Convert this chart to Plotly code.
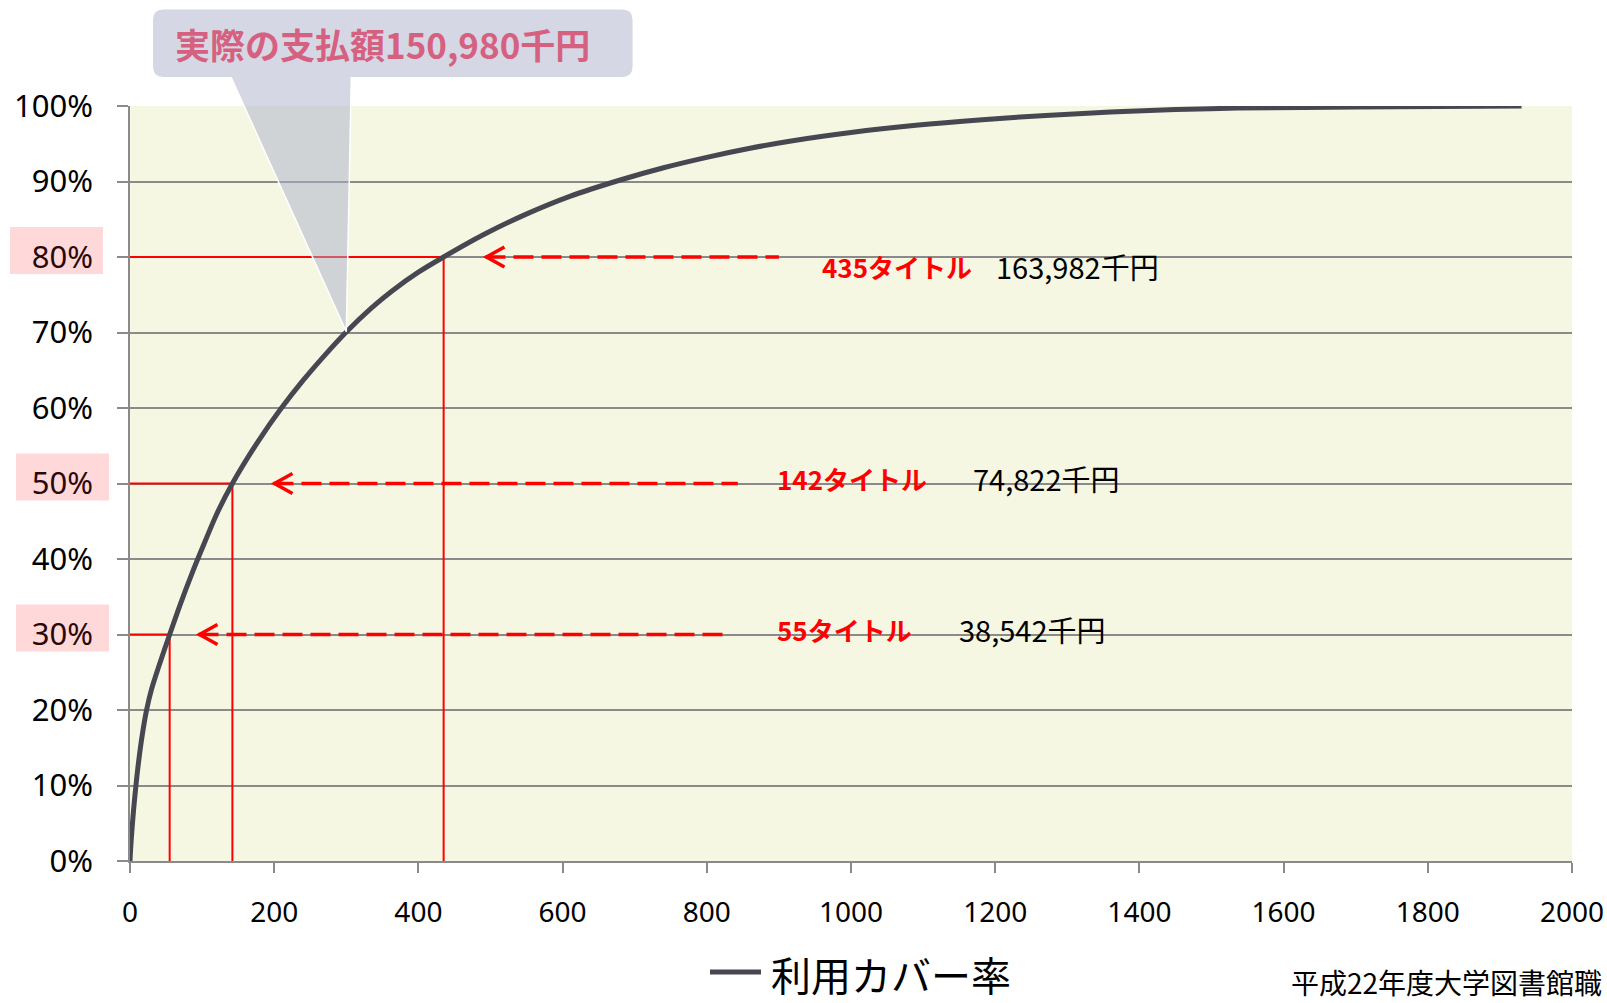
import plotly.graph_objects as go

# Cumulative usage coverage against the number of subscribed titles
titles = [0, 1, 3, 5, 8, 12, 17, 23, 30, 40, 55, 70, 86, 100, 120, 142, 178, 210, 240,
          270, 300, 335, 363, 400, 435, 490, 548, 610, 680, 740, 800, 860, 917, 1000,
          1090, 1182, 1270, 1360, 1450, 1536, 1700, 1930]
coverage = [0, 0.018, 0.045, 0.068, 0.098, 0.132, 0.167, 0.20, 0.228, 0.258, 0.30, 0.3407,
            0.381, 0.4138, 0.459, 0.50, 0.5562, 0.5999, 0.6365, 0.6698, 0.7007, 0.7326,
            0.7547, 0.7799, 0.80, 0.8294, 0.8561, 0.8803, 0.902, 0.9182, 0.932, 0.944,
            0.9537, 0.9649, 0.9744, 0.9818, 0.9875, 0.992, 0.9952, 0.9972, 0.9987, 1.0]

# Thresholds picked out on the chart
mark_titles = [55, 142, 435]
mark_coverage = [0.30, 0.50, 0.80]
mark_cost = [38542, 74822, 163982]

# Actual payment
actual_titles = 300
actual_coverage = 0.701
actual_cost = 150980

x_ticks = [0, 200, 400, 600, 800, 1000, 1200, 1400, 1600, 1800, 2000]
y_ticks = [0, 0.1, 0.2, 0.3, 0.4, 0.5, 0.6, 0.7, 0.8, 0.9, 1.0]
y_tick_labels = ["0%", "10%", "20%", "30%", "40%", "50%", "60%", "70%", "80%", "90%", "100%"]

series_name = "利用カバー率"
source_text = "平成22年度大学図書館職"

# ---- styling / placement -------------------------------------------------
W, H = 1607, 1003
M_L, M_R, M_T, M_B = 130, 35, 106, 142
PLOT_W = W - M_L - M_R
PLOT_H = H - M_T - M_B
X_RANGE = [0, 2000]
Y_RANGE = [0, 1]

JP = "Noto Sans CJK JP"
LATIN = "Noto Sans"
RED = "#ff0000"
CURVE = "#474752"
GRID = "#8a8a8a"

# where the dashed arrows start (tip) and end, and where the labels sit
arrow_tip = [95, 199, 493]
arrow_end = [825, 843, 900]
label_x = [894, 894, 957]
label_dy = [0.007, 0.007, -0.012]
value_x = [1147, 1167, 1198]
# pink highlight boxes behind the marked tick labels (pixel offsets from the axis)
hl_box_x = {0.3: (-114, -21), 0.5: (-114, -21), 0.8: (-120, -27)}
# speech bubble outline, pixel offsets from the point it indicates
bl, br, bt, bb, r = -194, 287, 323, 254, 11
tl, tr = -115, 5


def to_paper_x(v):
    return (v - X_RANGE[0]) / (X_RANGE[1] - X_RANGE[0])


def to_paper_y(v):
    return (v - Y_RANGE[0]) / (Y_RANGE[1] - Y_RANGE[0])


def px_y_to_paper(py):
    return -(py - M_T - PLOT_H) / PLOT_H


fig = go.Figure()

fig.add_trace(go.Scatter(
    x=titles, y=coverage, mode="lines", name=series_name,
    line=dict(color=CURVE, width=5, shape="spline", smoothing=0.8),
    hoverinfo="skip", showlegend=False,
))

shapes = []
annotations = []

# highlighted tick labels
hl_labels = []
for v, lab in zip(y_ticks, y_tick_labels):
    key = next((c for c in mark_coverage if abs(v - c) < 1e-9), None)
    if key is not None:
        hl_labels.append(f"<span style='color:#2a0808'>{lab}</span>")
        bx0, bx1 = hl_box_x[key]
        shapes.append(dict(
            type="rect", xref="paper", yref="paper",
            xsizemode="pixel", ysizemode="pixel",
            xanchor=0, yanchor=to_paper_y(v),
            x0=bx0, x1=bx1, y0=-17, y1=30,
            fillcolor="#ffd9d9", line=dict(width=0), layer="below",
        ))
    else:
        hl_labels.append(lab)

for t, c, tip, end, lx, dy, vx, cost in zip(mark_titles, mark_coverage, arrow_tip,
                                          arrow_end, label_x, label_dy, value_x, mark_cost):
    # guide lines from the axes to the curve
    shapes.append(dict(type="line", xref="x", yref="y", x0=X_RANGE[0], x1=t, y0=c, y1=c,
                       line=dict(color=RED, width=2), layer="between"))
    shapes.append(dict(type="line", xref="x", yref="y", x0=t, x1=t, y0=Y_RANGE[0], y1=c,
                       line=dict(color=RED, width=2), layer="between"))
    # dashed arrow pointing back to the curve
    shapes.append(dict(type="line", xref="x", yref="y", x0=tip, x1=end, y0=c, y1=c,
                       line=dict(color=RED, width=3.5, dash="20px,8px"), layer="between"))
    shapes.append(dict(type="path", xref="x", yref="y",
                       xsizemode="pixel", ysizemode="pixel", xanchor=tip, yanchor=c,
                       path="M 19,10 L 1,0 L 19,-10",
                       line=dict(color=RED, width=3.5), fillcolor="rgba(0,0,0,0)",
                       layer="between"))
    annotations.append(dict(x=lx, y=c + dy, xref="x", yref="y", xanchor="left",
                            yanchor="middle", showarrow=False,
                            text=f"<b>{t}タイトル</b>",
                            font=dict(family=JP, size=26, color=RED)))
    annotations.append(dict(x=vx, y=c + dy, xref="x", yref="y", xanchor="left",
                            yanchor="middle", showarrow=False,
                            text=f"{cost:,}千円",
                            font=dict(family=JP, size=29, color="#000000")))

# speech-bubble callout for the actual payment
callout = (f"M {bl + r},{bt} L {br - r},{bt} Q {br},{bt} {br},{bt - r} "
           f"L {br},{bb + r} Q {br},{bb} {br - r},{bb} L {tr},{bb} L 0,0 L {tl},{bb} "
           f"L {bl + r},{bb} Q {bl},{bb} {bl},{bb + r} L {bl},{bt - r} "
           f"Q {bl},{bt} {bl + r},{bt} Z")
shapes.append(dict(type="path", xref="paper", yref="paper",
                   xsizemode="pixel", ysizemode="pixel",
                   xanchor=to_paper_x(actual_titles), yanchor=to_paper_y(actual_coverage),
                   path=callout, fillcolor="rgba(171,175,201,0.5)",
                   line=dict(color="white", width=1.5), layer="above"))
annotations.append(dict(x=to_paper_x(actual_titles) + ((bl + br) / 2 - 10) / PLOT_W,
                        y=to_paper_y(actual_coverage) + (bt + bb) / 2 / PLOT_H,
                        xref="paper", yref="paper", xanchor="center", yanchor="middle",
                        showarrow=False, text=f"<b>実際の支払額{actual_cost:,}千円</b>",
                        font=dict(family=JP, size=35, color="#d6607f")))

# legend: line sample and series name under the x axis
leg_x = (710 - M_L) / PLOT_W
leg_y = px_y_to_paper(974)
shapes.append(dict(type="line", xref="paper", yref="paper",
                   xsizemode="pixel", ysizemode="pixel", xanchor=leg_x, yanchor=leg_y,
                   x0=0, x1=51, y0=2, y1=2, line=dict(color=CURVE, width=5)))
annotations.append(dict(x=leg_x + 59 / PLOT_W, y=leg_y, xref="paper", yref="paper",
                        xanchor="left", yanchor="middle", showarrow=False,
                        text=series_name, font=dict(family=JP, size=40, color="#000000")))

# source note at the bottom right
annotations.append(dict(x=(1289 - M_L) / PLOT_W, y=px_y_to_paper(982),
                        xref="paper", yref="paper", xanchor="left", yanchor="middle",
                        showarrow=False, text=source_text,
                        font=dict(family=JP, size=28, color="#000000")))

fig.update_layout(
    width=W, height=H,
    margin=dict(l=M_L, r=M_R, t=M_T, b=M_B, autoexpand=False),
    paper_bgcolor="white", plot_bgcolor="#f5f7e2",
    font=dict(family=f"{LATIN}, {JP}", color="#000000"),
    showlegend=False,
    shapes=shapes, annotations=annotations,
)

fig.update_xaxes(range=X_RANGE, tickvals=x_ticks, showgrid=False, zeroline=False,
                 showline=True, linecolor=GRID, linewidth=1.5,
                 ticks="outside", ticklen=10, tickcolor=GRID, tickwidth=1.5,
                 tickfont=dict(family=LATIN, size=28), ticklabelstandoff=16)
fig.update_yaxes(range=Y_RANGE, tickvals=y_ticks, ticktext=hl_labels,
                 showgrid=True, gridcolor=GRID, gridwidth=1.5, zeroline=False,
                 showline=True, linecolor=GRID, linewidth=1.5,
                 ticks="outside", ticklen=11, tickcolor=GRID, tickwidth=1.5,
                 tickfont=dict(family=LATIN, size=31), ticklabelstandoff=18)

fig.write_html("out.html")
